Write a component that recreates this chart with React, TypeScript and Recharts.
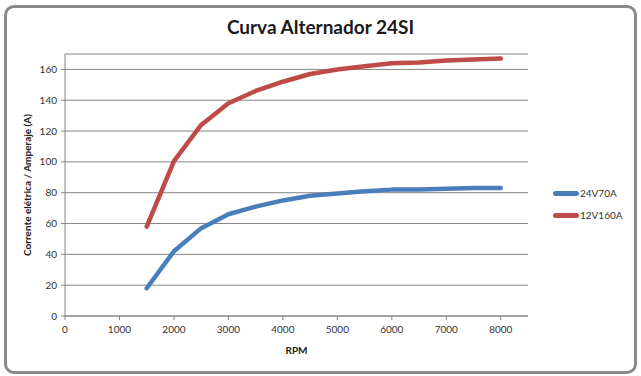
import { CartesianGrid, Label, Line, LineChart, XAxis, YAxis } from "recharts";

const rpm = [1500, 2000, 2500, 3000, 3500, 4000, 4500, 5000, 5500, 6000, 6500, 7000, 7500, 8000];
const amp24v70 = [18, 42, 57, 66, 71, 75, 78, 79.5, 81, 82, 82, 82.5, 83, 83];
const amp12v160 = [58, 100.5, 124, 138, 146, 152, 157, 160, 162, 164, 164.5, 165.8, 166.5, 167];
const xTicks = [0, 1000, 2000, 3000, 4000, 5000, 6000, 7000, 8000];
const yTicks = [0, 20, 40, 60, 80, 100, 120, 140, 160];

const series = [
  { key: "a24", name: "24V70A", color: "#4a7ebb" },
  { key: "a12", name: "12V160A", color: "#be4b48" },
];

const data = rpm.map((r, i) => ({ rpm: r, a24: amp24v70[i], a12: amp12v160[i] }));

const font = "Lato, 'Open Sans', sans-serif";
const axisColor = "#868686";

function LegendBox() {
  return (
    <div style={{ position: "absolute", left: 553, top: 182, fontFamily: font, fontSize: 10, color: "#333" }}>
      {series.map((s) => (
        <div key={s.key} style={{ display: "flex", alignItems: "center", height: 22 }}>
          <span
            style={{
              display: "inline-block",
              width: 26,
              height: 5,
              borderRadius: 3,
              background: s.color,
              marginRight: 1,
            }}
          />
          {s.name}
        </div>
      ))}
    </div>
  );
}

export default function App() {
  return (
    <div style={{ position: "fixed", left: 0, top: 0, width: 641, height: 376, background: "#fff" }}>
      <div
        style={{
          position: "absolute",
          left: 4,
          top: 5,
          width: 627,
          height: 363,
          border: "3px solid #8a8a8a",
          borderRadius: 10,
        }}
      />
      <div
        style={{
          position: "absolute",
          left: 0,
          top: 15,
          width: 641,
          textAlign: "center",
          fontFamily: font,
          fontWeight: 700,
          fontSize: 19,
          color: "#1a1a1a",
        }}
      >
        Curva Alternador 24SI
      </div>
      <div style={{ position: "absolute", left: 0, top: 0 }}>
        <LineChart width={641} height={376} data={data} margin={{ top: 54, right: 113, bottom: 0, left: 0 }}>
          <CartesianGrid horizontal vertical={false} stroke={axisColor} />
          <XAxis
            type="number"
            dataKey="rpm"
            domain={[0, 8500]}
            ticks={xTicks}
            height={60}
            stroke={axisColor}
            tickSize={4}
            tickMargin={6}
            tick={{ fill: "#333", fontSize: 10, fontFamily: font }}
          >
            <Label
              value="RPM"
              position="insideBottom"
              offset={22}
              style={{ fill: "#222", fontSize: 10, fontWeight: 700, fontFamily: font }}
            />
          </XAxis>
          <YAxis
            type="number"
            domain={[0, 170]}
            ticks={yTicks}
            width={65}
            stroke={axisColor}
            tickSize={4}
            tickMargin={4}
            tick={{ fill: "#333", fontSize: 10, fontFamily: font }}
          >
            <Label
              value="Corrente elétrica /  Amperaje (A)"
              angle={-90}
              position="insideLeft"
              offset={27}
              style={{ textAnchor: "middle", fill: "#222", fontSize: 10, fontWeight: 700, fontFamily: font }}
            />
          </YAxis>
          {series.map((s) => (
            <Line
              key={s.key}
              type="linear"
              dataKey={s.key}
              name={s.name}
              stroke={s.color}
              strokeWidth={4.5}
              strokeLinecap="round"
              strokeLinejoin="round"
              dot={false}
              activeDot={false}
              isAnimationActive={false}
            />
          ))}
        </LineChart>
      </div>
      <LegendBox />
    </div>
  );
}
